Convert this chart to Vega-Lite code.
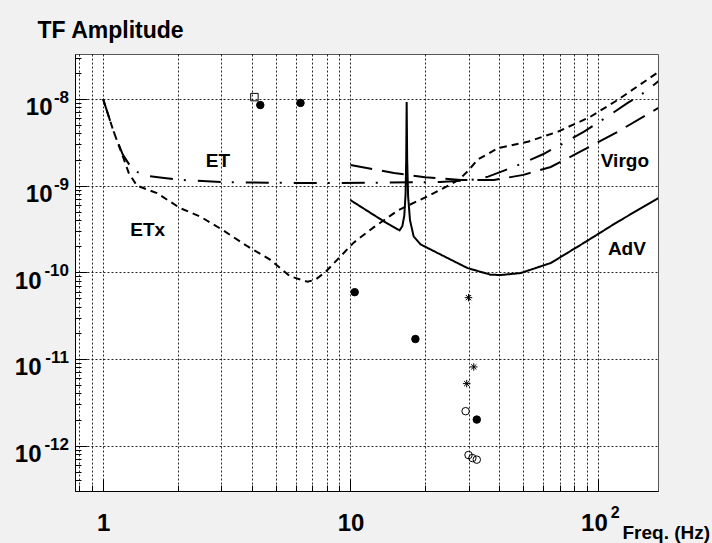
{
  "$schema": "https://vega.github.io/schema/vega-lite/v6.json",
  "width": 583,
  "height": 437,
  "autosize": {"type": "none"},
  "padding": {"left": 75, "top": 54, "right": 54, "bottom": 52},
  "background": "#f1f1f1",
  "view": {"fill": "white", "stroke": "#555", "strokeWidth": 1},
  "config": {
    "font": "Liberation Sans",
    "axis": {"domainColor": "black", "tickColor": "black", "labelColor": "black", "titleColor": "black"}
  },
  "datasets": {
    "curves": [
      {"series": "ET", "f": 1, "amp": 1e-8},
      {"series": "ET", "f": 1.1, "amp": 4.3e-9},
      {"series": "ET", "f": 1.2, "amp": 2.3e-9},
      {"series": "ET", "f": 1.32, "amp": 1.5e-9},
      {"series": "ET", "f": 1.5, "amp": 1.3e-9},
      {"series": "ET", "f": 1.7, "amp": 1.24e-9},
      {"series": "ET", "f": 2.1, "amp": 1.16e-9},
      {"series": "ET", "f": 3, "amp": 1.1e-9},
      {"series": "ET", "f": 4.6, "amp": 1.08e-9},
      {"series": "ET", "f": 8, "amp": 1.07e-9},
      {"series": "ET", "f": 13, "amp": 1.08e-9},
      {"series": "ET", "f": 23, "amp": 1.1e-9},
      {"series": "ET", "f": 30.6, "amp": 1.16e-9},
      {"series": "ET", "f": 36, "amp": 1.27e-9},
      {"series": "ET", "f": 42, "amp": 1.5e-9},
      {"series": "ET", "f": 50, "amp": 1.83e-9},
      {"series": "ET", "f": 60, "amp": 2.3e-9},
      {"series": "ET", "f": 72.8, "amp": 3.1e-9},
      {"series": "ET", "f": 87.6, "amp": 4.16e-9},
      {"series": "ET", "f": 109.7, "amp": 6.3e-9},
      {"series": "ET", "f": 132, "amp": 9.0e-9},
      {"series": "ET", "f": 155, "amp": 1.2e-8},
      {"series": "ET", "f": 176, "amp": 1.61e-8},
      {"series": "ETx", "f": 1, "amp": 1e-8},
      {"series": "ETx", "f": 1.1, "amp": 4.3e-9},
      {"series": "ETx", "f": 1.2, "amp": 2.2e-9},
      {"series": "ETx", "f": 1.27, "amp": 1.4e-9},
      {"series": "ETx", "f": 1.37, "amp": 1.0e-9},
      {"series": "ETx", "f": 1.65, "amp": 8.2e-10},
      {"series": "ETx", "f": 2.05, "amp": 5.5e-10},
      {"series": "ETx", "f": 2.47, "amp": 4.4e-10},
      {"series": "ETx", "f": 3.03, "amp": 3.1e-10},
      {"series": "ETx", "f": 3.83, "amp": 2.0e-10},
      {"series": "ETx", "f": 4.73, "amp": 1.4e-10},
      {"series": "ETx", "f": 5.7, "amp": 9.0e-11},
      {"series": "ETx", "f": 6.7, "amp": 7.8e-11},
      {"series": "ETx", "f": 7.2, "amp": 8.2e-11},
      {"series": "ETx", "f": 7.9, "amp": 1.0e-10},
      {"series": "ETx", "f": 8.85, "amp": 1.4e-10},
      {"series": "ETx", "f": 10.3, "amp": 2.2e-10},
      {"series": "ETx", "f": 12.4, "amp": 3.3e-10},
      {"series": "ETx", "f": 15.6, "amp": 5.2e-10},
      {"series": "ETx", "f": 21, "amp": 7.8e-10},
      {"series": "ETx", "f": 27.4, "amp": 1.16e-9},
      {"series": "ETx", "f": 30, "amp": 1.5e-9},
      {"series": "ETx", "f": 32.7, "amp": 2.0e-9},
      {"series": "ETx", "f": 39.4, "amp": 2.7e-9},
      {"series": "ETx", "f": 52, "amp": 3.2e-9},
      {"series": "ETx", "f": 69, "amp": 4.2e-9},
      {"series": "ETx", "f": 93, "amp": 6.2e-9},
      {"series": "ETx", "f": 120, "amp": 9.7e-9},
      {"series": "ETx", "f": 176, "amp": 2.05e-8},
      {"series": "Virgo", "f": 10, "amp": 1.73e-9},
      {"series": "Virgo", "f": 15, "amp": 1.4e-9},
      {"series": "Virgo", "f": 20, "amp": 1.25e-9},
      {"series": "Virgo", "f": 28, "amp": 1.16e-9},
      {"series": "Virgo", "f": 38, "amp": 1.16e-9},
      {"series": "Virgo", "f": 50, "amp": 1.33e-9},
      {"series": "Virgo", "f": 64.5, "amp": 1.64e-9},
      {"series": "Virgo", "f": 83, "amp": 2.38e-9},
      {"series": "Virgo", "f": 120, "amp": 4.17e-9},
      {"series": "Virgo", "f": 176, "amp": 7.9e-9},
      {"series": "AdV", "f": 10, "amp": 6.8e-10},
      {"series": "AdV", "f": 12.4, "amp": 4.6e-10},
      {"series": "AdV", "f": 14, "amp": 3.7e-10},
      {"series": "AdV", "f": 15.8, "amp": 3.05e-10},
      {"series": "AdV", "f": 16.2, "amp": 3.4e-10},
      {"series": "AdV", "f": 16.5, "amp": 4.5e-10},
      {"series": "AdV", "f": 16.7, "amp": 8e-10},
      {"series": "AdV", "f": 16.8, "amp": 2e-9},
      {"series": "AdV", "f": 16.87, "amp": 9.2e-9},
      {"series": "AdV", "f": 16.95, "amp": 2e-9},
      {"series": "AdV", "f": 17.1, "amp": 7.5e-10},
      {"series": "AdV", "f": 17.4, "amp": 4e-10},
      {"series": "AdV", "f": 18, "amp": 2.6e-10},
      {"series": "AdV", "f": 19.2, "amp": 2.1e-10},
      {"series": "AdV", "f": 22.4, "amp": 1.68e-10},
      {"series": "AdV", "f": 29.7, "amp": 1.12e-10},
      {"series": "AdV", "f": 36.8, "amp": 9.4e-11},
      {"series": "AdV", "f": 40.4, "amp": 9.3e-11},
      {"series": "AdV", "f": 48.7, "amp": 9.8e-11},
      {"series": "AdV", "f": 64.5, "amp": 1.28e-10},
      {"series": "AdV", "f": 87.7, "amp": 2.18e-10},
      {"series": "AdV", "f": 120, "amp": 3.81e-10},
      {"series": "AdV", "f": 176, "amp": 7.2e-10}
    ],
    "points": [
      {"type": "filled", "f": 4.32, "amp": 8.5e-9},
      {"type": "filled", "f": 6.28, "amp": 9.0e-9},
      {"type": "filled", "f": 10.4, "amp": 5.9e-11},
      {"type": "filled", "f": 18.3, "amp": 1.7e-11},
      {"type": "filled", "f": 32.4, "amp": 2.0e-12},
      {"type": "open", "f": 29.2, "amp": 2.5e-12},
      {"type": "open", "f": 30.0, "amp": 7.8e-13},
      {"type": "open", "f": 31.1, "amp": 7.2e-13},
      {"type": "open", "f": 32.4, "amp": 6.9e-13},
      {"type": "square", "f": 4.09, "amp": 1.05e-8},
      {"type": "star", "f": 30.0, "amp": 5.1e-11},
      {"type": "star", "f": 31.5, "amp": 8.1e-12},
      {"type": "star", "f": 29.5, "amp": 5.2e-12}
    ],
    "labels": [
      {"text": "ET", "f": 2.91, "amp": 1.9e-9},
      {"text": "ETx", "f": 1.514, "amp": 3.04e-10},
      {"text": "Virgo", "f": 128.6, "amp": 1.9e-9},
      {"text": "AdV", "f": 131, "amp": 1.86e-10}
    ],
    "yexp": [
      {"amp": 1e-8, "exp": "-8"},
      {"amp": 1e-9, "exp": "-9"},
      {"amp": 1e-10, "exp": "-10"},
      {"amp": 1e-11, "exp": "-11"},
      {"amp": 1e-12, "exp": "-12"}
    ],
    "xexp": [
      {"f": 100, "exp": "2"}
    ]
  },
  "layer": [
    {
      "data": {"name": "curves"},
      "mark": {"type": "line", "color": "black", "strokeWidth": 2, "clip": true},
      "encoding": {
        "x": {
          "field": "f", "type": "quantitative",
          "scale": {"type": "log", "domain": [0.77, 175], "nice": false, "zero": false},
          "axis": {
            "values": [0.8, 0.9, 1, 2, 3, 4, 5, 6, 7, 8, 9, 10, 20, 30, 40, 50, 60, 70, 80, 90, 100],
            "labelExpr": "datum.value == 1 ? '1' : datum.value == 10 ? '10' : datum.value == 100 ? '10' : ''",
            "labelOverlap": false,
            "labelFlush": false,
            "labelFont": "Liberation Sans",
            "labelFontWeight": "bold",
            "labelFontSize": 24,
            "labelPadding": 32,
            "labelOffset": {"condition": {"test": "datum.value == 100", "value": -4}, "value": 0},
            "grid": true,
            "gridColor": "black",
            "gridDash": [2, 2],
            "gridWidth": 1,
            "gridOpacity": 0.85,
            "tickSize": {"condition": {"test": "datum.value == 1 || datum.value == 10 || datum.value == 100", "value": -12}, "value": -6},
            "title": "Freq. (Hz)",
            "titleFont": "Liberation Sans",
            "titleFontWeight": "bold",
            "titleFontSize": 19,
            "titleAlign": "left",
            "titleBaseline": "alphabetic",
            "titleX": 547,
            "titleY": 47
          }
        },
        "y": {
          "field": "amp", "type": "quantitative",
          "scale": {"type": "log", "domain": [3e-13, 3.3e-8], "nice": false, "zero": false},
          "axis": {
            "values": [4e-13, 5e-13, 6e-13, 7e-13, 8e-13, 9e-13, 1e-12, 2e-12, 3e-12, 4e-12, 5e-12, 6e-12, 7e-12, 8e-12, 9e-12, 1e-11, 2e-11, 3e-11, 4e-11, 5e-11, 6e-11, 7e-11, 8e-11, 9e-11, 1e-10, 2e-10, 3e-10, 4e-10, 5e-10, 6e-10, 7e-10, 8e-10, 9e-10, 1e-9, 2e-9, 3e-9, 4e-9, 5e-9, 6e-9, 7e-9, 8e-9, 9e-9, 1e-8, 2e-8, 3e-8],
            "labelExpr": "abs(log(datum.value)/LN10 - round(log(datum.value)/LN10)) < 0.01 ? '10' : ''",
            "labelOverlap": false,
            "labelFlush": false,
            "labelFont": "Liberation Sans",
            "labelFontWeight": "bold",
            "labelFontSize": 24,
            "labelPadding": {"condition": {"test": "datum.value > 5e-10", "value": 35}, "value": 46},
            "labelOffset": 9,
            "grid": true,
            "gridColor": "black",
            "gridDash": [2, 2],
            "gridWidth": 1,
            "gridOpacity": {"condition": {"test": "abs(log(datum.value)/LN10 - round(log(datum.value)/LN10)) < 0.01", "value": 0.85}, "value": 0},
            "tickSize": {"condition": {"test": "abs(log(datum.value)/LN10 - round(log(datum.value)/LN10)) < 0.01", "value": -12}, "value": -6},
            "title": "TF Amplitude",
            "titleFont": "Liberation Sans",
            "titleFontWeight": "bold",
            "titleFontSize": 23,
            "titleAngle": 0,
            "titleAlign": "left",
            "titleBaseline": "alphabetic",
            "titleX": -38,
            "titleY": -17
          }
        },
        "strokeDash": {
          "field": "series", "type": "nominal",
          "scale": {"domain": ["ET", "ETx", "Virgo", "AdV"], "range": [[23, 11, 2, 12], [7, 5], [22, 10], [1, 0]]},
          "legend": null
        },
        "detail": {"field": "series"}
      }
    },
    {
      "data": {"name": "points"},
      "mark": {"type": "point", "filled": true, "opacity": 1, "stroke": "black", "strokeWidth": 1, "size": 56, "clip": true},
      "encoding": {
        "x": {"field": "f", "type": "quantitative"},
        "y": {"field": "amp", "type": "quantitative"},
        "shape": {
          "field": "type", "type": "nominal",
          "scale": {"domain": ["filled", "open", "square", "star"], "range": ["circle", "circle", "square", "M-1,0L1,0M0,-1L0,1M-0.7,-0.7L0.7,0.7M-0.7,0.7L0.7,-0.7"]},
          "legend": null
        },
        "fill": {
          "field": "type", "type": "nominal",
          "scale": {"domain": ["filled", "open", "square", "star"], "range": ["black", "transparent", "transparent", "transparent"]},
          "legend": null
        }
      }
    },
    {
      "data": {"name": "labels"},
      "mark": {"type": "text", "font": "Liberation Sans", "fontWeight": "bold", "fontSize": 19, "color": "black", "align": "center", "baseline": "middle"},
      "encoding": {
        "x": {"field": "f", "type": "quantitative"},
        "y": {"field": "amp", "type": "quantitative"},
        "text": {"field": "text"}
      }
    },
    {
      "data": {"name": "yexp"},
      "mark": {"type": "text", "font": "Liberation Sans", "fontWeight": "bold", "fontSize": 17, "color": "black", "align": "right", "baseline": "alphabetic", "dx": -6, "dy": 4, "clip": false},
      "encoding": {
        "x": {"datum": 0.77, "type": "quantitative"},
        "y": {"field": "amp", "type": "quantitative"},
        "text": {"field": "exp"}
      }
    },
    {
      "data": {"name": "xexp"},
      "mark": {"type": "text", "font": "Liberation Sans", "fontWeight": "bold", "fontSize": 16, "color": "black", "align": "left", "baseline": "alphabetic", "dx": 13, "dy": 27, "clip": false},
      "encoding": {
        "x": {"field": "f", "type": "quantitative"},
        "y": {"datum": 3e-13, "type": "quantitative"},
        "text": {"field": "exp"}
      }
    }
  ]
}
